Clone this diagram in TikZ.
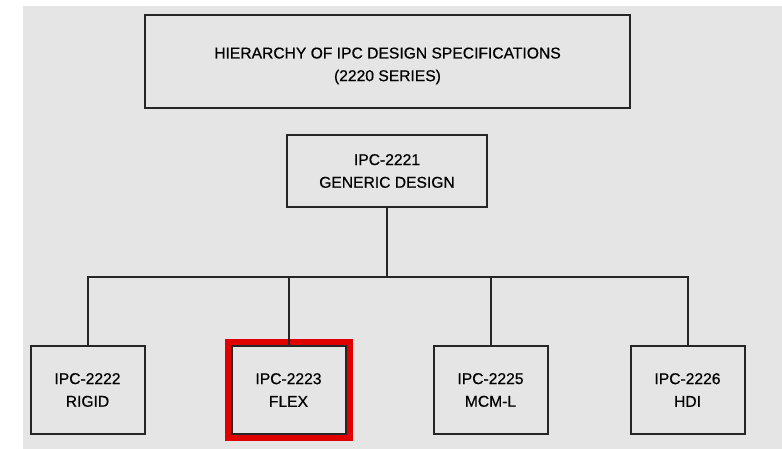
\documentclass[tikz,border=0pt]{standalone}
\usepackage{fontspec}
\setmainfont{Liberation Sans}[FakeBold=0.6]
\usetikzlibrary{positioning, fit}
\definecolor{bggray}{RGB}{229,229,229}
\definecolor{markred}{RGB}{225,0,0}

\begin{document}
\begin{tikzpicture}[
	spec/.style={rectangle, draw=black!85, line width=0.04cm, fill=bggray, minimum width=2.28cm, minimum height=1.76cm, align=center, font=\fontsize{8.9}{12.9}\selectfont},
	wire/.style={draw=black!85, line width=0.04cm},
]
	% Canvas and background
	\useasboundingbox (0,0) rectangle (15.64,-8.98);
	\fill[bggray] (0.46,-0.12) rectangle (15.64,-8.98);

	% Title (top)
	\node[spec, minimum width=9.7cm, minimum height=1.86cm, text height=0.85cm] (title) at (7.75,-1.23) {
		HIERARCHY OF IPC DESIGN SPECIFICATIONS\\
		(2220 SERIES)
	};

	% Generic design (middle)
	\node[spec, minimum width=4.0cm, minimum height=1.44cm] (generic) at (7.74,-3.42) {
		IPC-2221\\
		GENERIC DESIGN
	};

	% Sectional specs (bottom row)
	\node[spec] (rigid) at (1.75,-7.8) {IPC-2222\\RIGID};
	\node[spec] (flex) at (5.77,-7.8) {IPC-2223\\FLEX};
	\node[spec] (mcml) at (9.81,-7.8) {IPC-2225\\MCM-L};
	\node[spec] (hdi) at (13.75,-7.8) {IPC-2226\\HDI};

	% Highlight on the flex spec
	\node[draw=markred, line width=0.12cm, inner sep=0.06cm, fit=(flex)] (flexmark) {};

	% Tree lines
	\coordinate (bus) at (7.74,-5.54);
	\draw[wire] (generic.south) -- (bus);
	\draw[wire] (rigid.north) -- (rigid.north |- bus) -- (hdi.north |- bus) -- (hdi.north);
	\draw[wire] (flex.north) -- (flex.north |- bus);
	\draw[wire] (mcml.north) -- (mcml.north |- bus);

\end{tikzpicture}
\end{document}
